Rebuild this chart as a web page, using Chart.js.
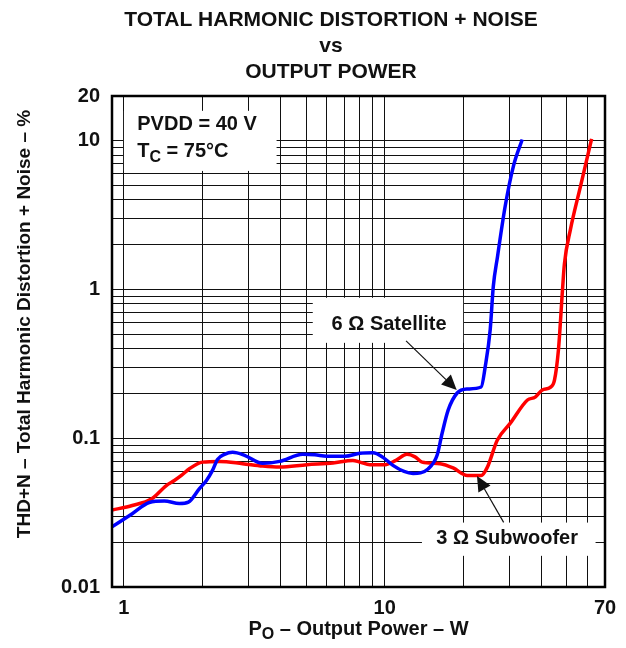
<!DOCTYPE html>
<html><head><meta charset="utf-8">
<script src="https://cdn.jsdelivr.net/npm/chart.js@4.4.1/dist/chart.umd.min.js"></script>
<style>html,body{margin:0;padding:0;background:#fff;}canvas{display:block;}</style>
</head><body>
<canvas id="c" width="626" height="648"></canvas>
<script>
// ---------- data ----------
const titleLines = ['TOTAL HARMONIC DISTORTION + NOISE', 'vs', 'OUTPUT POWER'];
const xAxisTitle = ['P', 'O', ' – Output Power – W'];
const yAxisTitle = 'THD+N – Total Harmonic Distortion + Noise – %';
const xTickLabels = [1, 10, 70];
const yTickLabels = [0.01, 0.1, 1, 10, 20];

const satellitePower = [0.9, 1.076, 1.251, 1.429, 1.632, 1.767, 1.948, 2.073, 2.186, 2.285, 2.431, 2.61, 2.902, 3.404, 3.957, 4.852, 5.396, 5.999, 7.037, 8.04, 9.02, 9.85, 10.76, 11.87, 12.85, 14.67, 15.89, 16.61, 17.52, 18.97, 20.73, 23.45, 24.3, 25.4, 26.1, 27.1, 29.0, 31.2, 33.7];
const satelliteTHD   = [0.0254, 0.0311, 0.0370, 0.0378, 0.0364, 0.0372, 0.0459, 0.0520, 0.0608, 0.0721, 0.0780, 0.0804, 0.0768, 0.0678, 0.0699, 0.0780, 0.0774, 0.0756, 0.0756, 0.0792, 0.0798, 0.0744, 0.0657, 0.0598, 0.0580, 0.0622, 0.0768, 0.108, 0.1546, 0.2015, 0.2143, 0.2211, 0.302, 0.537, 1.048, 1.67, 3.64, 6.78, 10.2];

const subwooferPower = [0.9, 1.076, 1.274, 1.454, 1.561, 1.661, 1.783, 2.0, 2.326, 2.851, 3.404, 3.957, 5.035, 6.33, 7.55, 8.04, 8.78, 10.03, 11.05, 12.18, 13.08, 13.92, 16.32, 18.31, 20.73, 23.45, 24.75, 27.03, 30.34, 35.3, 37.8, 40.24, 43.2, 44.8, 46.4, 48.1, 48.9, 51.6, 56.4, 62.2];
const subwooferTHD   = [0.0329, 0.0353, 0.0390, 0.0481, 0.0520, 0.0562, 0.0624, 0.0691, 0.0699, 0.0675, 0.0650, 0.0640, 0.0664, 0.0681, 0.0710, 0.0691, 0.0664, 0.0664, 0.0710, 0.0780, 0.0750, 0.0691, 0.0675, 0.0632, 0.0562, 0.0562, 0.0637, 0.0970, 0.1263, 0.1807, 0.189, 0.211, 0.220, 0.246, 0.393, 1.0, 1.48, 2.54, 4.96, 10.3];

// ---------- helpers ----------
const FAMILY = '"Liberation Sans", Arial, Helvetica, sans-serif';
const INK = '#111';
function gridValues(decades, lo, hi) {
  const out = [];
  decades.forEach(d => { for (let m = 1; m <= 9; m++) { const v = Number((m * d).toPrecision(6)); if (v >= lo && v <= hi) out.push(v); } });
  return out;
}
const xGrid = gridValues([1, 10], 0.9, 70);
const yGrid = gridValues([0.01, 0.1, 1, 10], 0.01, 20);
const isLabel = (list, v) => list.some(t => Math.abs(v - t) / t < 1e-6);
const toPts = (xs, ys) => xs.map((x, i) => ({ x: x, y: ys[i] }));

// annotation anchors (in data space)
const notes = {
  conditions: { box: [1.0, 15.9, 3.85, 6.27], x: 1.125, y1: 12.8, y2: 8.49 },
  satellite: { box: [5.3, 0.88, 20.0, 0.438], text: '6 Ω Satellite', tx: 10.4, ty: 0.585, from: [12.08, 0.452], to: [18.9, 0.211] },
  subwoofer: { box: [13.9, 0.0271, 64.4, 0.0162], text: '3 Ω Subwoofer', tx: 29.5, ty: 0.0211, from: [28.6, 0.0272], to: [22.6, 0.0558] }
};

function drawRich(ctx, parts, x, y, align) {
  const main = 'bold 20px ' + FAMILY, small = 'bold 16px ' + FAMILY;
  let w = 0;
  parts.forEach(p => { ctx.font = p.sub ? small : main; w += ctx.measureText(p.t).width; });
  let cx = align === 'center' ? x - w / 2 : x;
  ctx.textAlign = 'left'; ctx.textBaseline = 'middle';
  parts.forEach(p => { ctx.font = p.sub ? small : main; ctx.fillText(p.t, cx, p.sub ? y + 6 : y); cx += ctx.measureText(p.t).width; });
}
function arrow(ctx, x1, y1, x2, y2) {
  const ang = Math.atan2(y2 - y1, x2 - x1), L = 15, H = 7;
  const bx = x2 - L * Math.cos(ang), by = y2 - L * Math.sin(ang);
  ctx.strokeStyle = INK; ctx.lineWidth = 1.2;
  ctx.beginPath(); ctx.moveTo(x1, y1); ctx.lineTo(bx, by); ctx.stroke();
  ctx.fillStyle = INK; ctx.beginPath();
  ctx.moveTo(x2, y2);
  ctx.lineTo(bx + H * Math.sin(ang), by - H * Math.cos(ang));
  ctx.lineTo(bx - H * Math.sin(ang), by + H * Math.cos(ang));
  ctx.closePath(); ctx.fill();
}

const decor = {
  id: 'decor',
  beforeDatasetsDraw(chart) {
    const ctx = chart.ctx, xs = chart.scales.x, ys = chart.scales.y;
    ctx.save(); ctx.fillStyle = '#fff';
    [notes.conditions.box, notes.satellite.box, notes.subwoofer.box].forEach(b => {
      const x1 = xs.getPixelForValue(b[0]), y1 = ys.getPixelForValue(b[1]);
      const x2 = xs.getPixelForValue(b[2]), y2 = ys.getPixelForValue(b[3]);
      ctx.fillRect(x1, y1, x2 - x1, y2 - y1);
    });
    ctx.restore();
  },
  afterDatasetsDraw(chart) {
    const ctx = chart.ctx, xs = chart.scales.x, ys = chart.scales.y, a = chart.chartArea;
    ctx.save();
    // frame
    ctx.strokeStyle = '#000'; ctx.lineWidth = 2.5;
    ctx.strokeRect(a.left, a.top, a.right - a.left, a.bottom - a.top);
    // chart title
    ctx.fillStyle = INK; ctx.font = 'bold 21px ' + FAMILY; ctx.textAlign = 'center'; ctx.textBaseline = 'middle';
    titleLines.forEach((t, i) => ctx.fillText(t, 331, 20 + i * 26.3));
    // conditions
    const c = notes.conditions;
    drawRich(ctx, [{ t: 'PVDD = 40 V' }], xs.getPixelForValue(c.x), ys.getPixelForValue(c.y1), 'left');
    drawRich(ctx, [{ t: 'T' }, { t: 'C', sub: true }, { t: ' = 75°C' }], xs.getPixelForValue(c.x), ys.getPixelForValue(c.y2), 'left');
    // labels and arrows
    [notes.satellite, notes.subwoofer].forEach(n => {
      ctx.fillStyle = INK;
      drawRich(ctx, [{ t: n.text }], xs.getPixelForValue(n.tx), ys.getPixelForValue(n.ty), 'center');
      arrow(ctx, xs.getPixelForValue(n.from[0]), ys.getPixelForValue(n.from[1]), xs.getPixelForValue(n.to[0]), ys.getPixelForValue(n.to[1]));
    });
    // axis titles
    ctx.fillStyle = INK;
    drawRich(ctx, [{ t: xAxisTitle[0] }, { t: xAxisTitle[1], sub: true }, { t: xAxisTitle[2] }], (a.left + a.right) / 2, 629, 'center');
    ctx.translate(25, 324); ctx.rotate(-Math.PI / 2);
    ctx.font = 'bold 19px ' + FAMILY; ctx.textAlign = 'center'; ctx.textBaseline = 'middle';
    ctx.fillText(yAxisTitle, 0, 0);
    ctx.restore();
  }
};

const tickFont = { family: FAMILY, size: 20, weight: 'bold' };
new Chart(document.getElementById('c'), {
  type: 'line',
  data: {
    datasets: [
      { label: '6 Ω Satellite', data: toPts(satellitePower, satelliteTHD), borderColor: '#0000ff', borderWidth: 3.5, pointRadius: 0, cubicInterpolationMode: 'monotone', fill: false },
      { label: '3 Ω Subwoofer', data: toPts(subwooferPower, subwooferTHD), borderColor: '#ff0000', borderWidth: 3.5, pointRadius: 0, cubicInterpolationMode: 'monotone', fill: false }
    ]
  },
  options: {
    responsive: false, animation: false, devicePixelRatio: 1,
    layout: { padding: { left: 0, right: 21, top: 96, bottom: 0 } },
    plugins: { legend: { display: false }, tooltip: { enabled: false }, title: { display: false } },
    scales: {
      x: {
        type: 'logarithmic', min: 0.9, max: 70,
        afterBuildTicks: s => { s.ticks = xGrid.map(v => ({ value: v })); },
        afterFit: s => { s.height = 61; },
        ticks: { autoSkip: false, maxRotation: 0, minRotation: 0, padding: 9, color: INK, font: tickFont,
          callback: v => isLabel(xTickLabels, v) ? String(v) : '' },
        grid: { color: '#111', lineWidth: 1, drawTicks: false },
        border: { display: false }
      },
      y: {
        type: 'logarithmic', min: 0.01, max: 20,
        afterBuildTicks: s => { s.ticks = yGrid.map(v => ({ value: v })); },
        afterFit: s => { s.width = 112; },
        ticks: { autoSkip: false, padding: 12, color: INK, font: tickFont,
          callback: v => isLabel(yTickLabels, v) ? String(v) : '' },
        grid: { color: '#111', lineWidth: 1, drawTicks: false },
        border: { display: false }
      }
    }
  },
  plugins: [decor]
});
</script>
</body></html>
